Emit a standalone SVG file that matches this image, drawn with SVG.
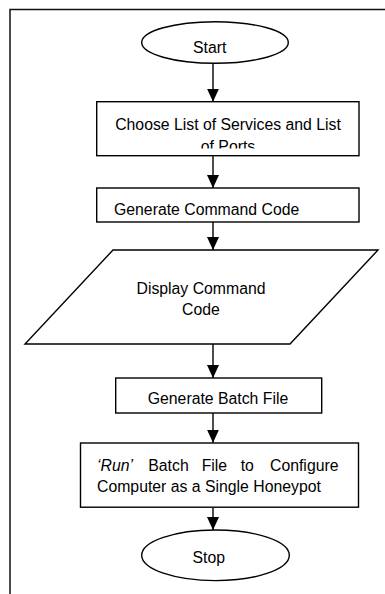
<svg xmlns="http://www.w3.org/2000/svg" width="385" height="594" viewBox="0 0 385 594">
<style>
.s{fill:#fff;stroke:#000;stroke-width:1.4}
.t{font-family:"Liberation Sans",Arial,sans-serif;font-size:15.8px;fill:#000}
.c{stroke:#000;stroke-width:1.4;fill:none}
.f{stroke:#111;stroke-width:1.5;fill:none}
</style>
<defs>
<marker id="ah" markerWidth="13" markerHeight="12" refX="13" refY="6" orient="auto" markerUnits="userSpaceOnUse">
<path d="M0,0 L13,6 L0,12 Z" fill="#000"/>
</marker>
<clipPath id="clip1"><rect x="97" y="102" width="262" height="46.5"/></clipPath>
</defs>
<rect width="385" height="594" fill="#fff"/>
<g id="frame">
<path class="f" d="M10,594 L10,9.5 L385,9.5"/>
</g>
<g id="connectors">
<line class="c" x1="213" y1="63.3" x2="213" y2="101.7" marker-end="url(#ah)"/>
<line class="c" x1="213" y1="155.7" x2="213" y2="188" marker-end="url(#ah)"/>
<line class="c" x1="213" y1="222" x2="213" y2="250" marker-end="url(#ah)"/>
<line class="c" x1="213" y1="344" x2="213" y2="378" marker-end="url(#ah)"/>
<line class="c" x1="213" y1="413" x2="213" y2="442.7" marker-end="url(#ah)"/>
<line class="c" x1="213" y1="507.7" x2="213" y2="530" marker-end="url(#ah)"/>
</g>
<g id="start">
<ellipse class="s" cx="215" cy="42.5" rx="73.3" ry="20.8"/>
<text class="t" x="209.7" y="53.3" text-anchor="middle">Start</text>
</g>
<g id="choose">
<rect class="s" x="96.7" y="101.7" width="262.3" height="54"/>
<g clip-path="url(#clip1)">
<text class="t" x="228" y="130" text-anchor="middle">Choose List of Services and List</text>
<text class="t" x="228" y="152" text-anchor="middle">of Ports</text>
</g>
</g>
<g id="generate-code">
<rect class="s" x="96.7" y="188" width="262.3" height="34"/>
<text class="t" x="114" y="215">Generate Command Code</text>
</g>
<g id="display">
<polygon class="s" points="113,250 378,250 290,344 25,344"/>
<text class="t" x="201" y="294" text-anchor="middle">Display Command</text>
<text class="t" x="201" y="315" text-anchor="middle">Code</text>
</g>
<g id="generate-batch">
<rect class="s" x="115.7" y="378" width="206" height="35"/>
<text class="t" x="218" y="404" text-anchor="middle">Generate Batch File</text>
</g>
<g id="run">
<rect class="s" x="80.5" y="443" width="278" height="64.2"/>
<text class="t" y="470.7"><tspan x="97" font-style="italic">‘Run’</tspan><tspan x="148.3">Batch</tspan><tspan x="201.7">File</tspan><tspan x="240.7">to</tspan><tspan x="270">Configure</tspan></text>
<text class="t" x="97" y="491.7">Computer as a Single Honeypot</text>
</g>
<g id="stop">
<ellipse class="s" cx="215.5" cy="555.3" rx="73.8" ry="25.3"/>
<text class="t" x="208.8" y="562.7" text-anchor="middle">Stop</text>
</g>
</svg>
